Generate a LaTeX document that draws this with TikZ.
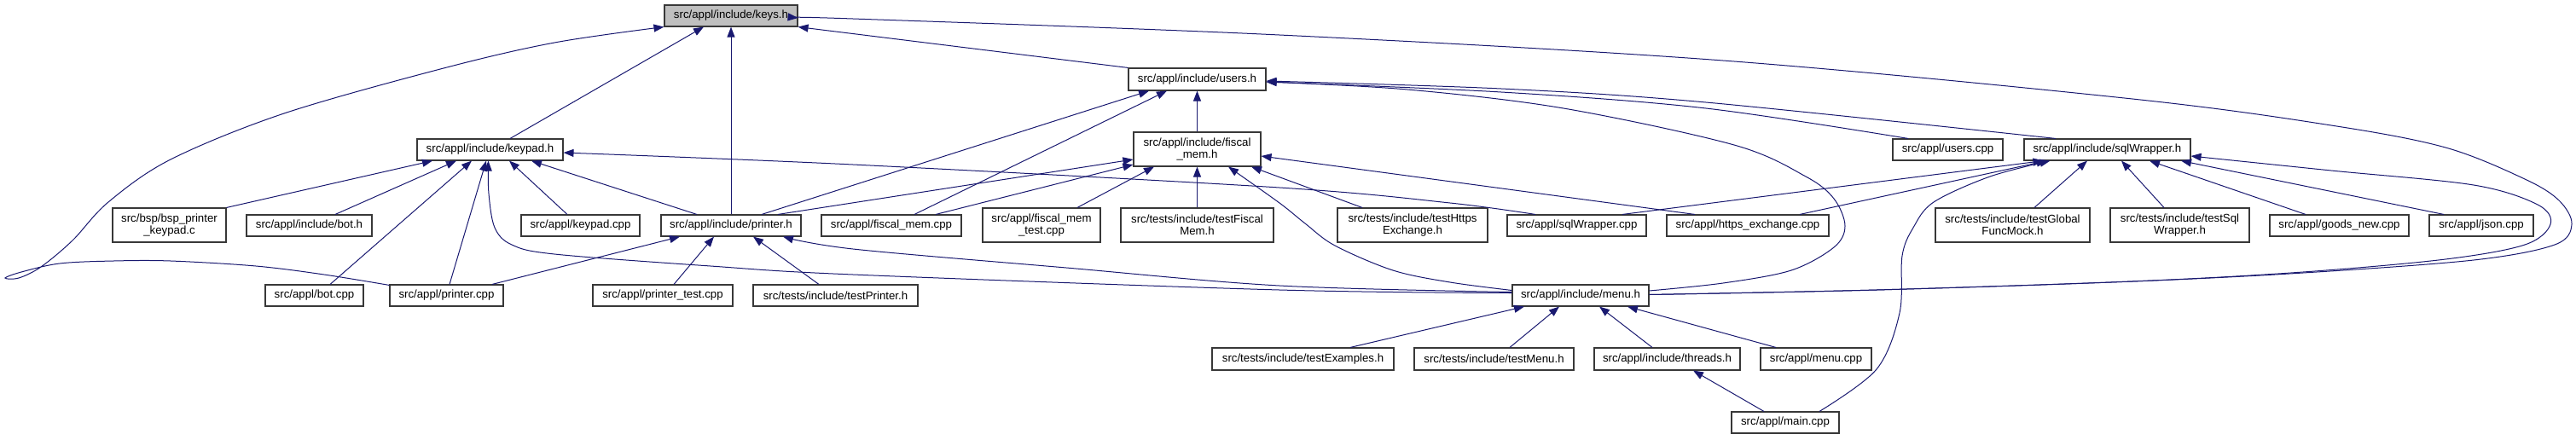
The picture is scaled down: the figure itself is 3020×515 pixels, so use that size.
\documentclass[tikz,border=0pt]{standalone}
\usepackage{fontspec}
\setmainfont{Liberation Sans}
\usetikzlibrary{arrows.meta}
\definecolor{mblue}{RGB}{25,25,112}
\definecolor{keygray}{RGB}{191,191,191}
\tikzset{
  box/.style={draw=black!78, line width=1.1pt, fill=white, inner sep=0pt, align=center,
    font=\fontsize{13.25}{14}\selectfont, anchor=center},
  one/.style={box, minimum height=25pt},
  two/.style={box, minimum height=40pt},
  edge/.style={draw=mblue, line width=1pt, -{Triangle[length=12pt,width=9pt]}},
  curv/.style={edge, smooth, tension=0.55},
}
\begin{document}
\begin{tikzpicture}[x=1pt,y=-1pt]
\useasboundingbox (0,0) rectangle (3020,515);
% nodes
\node[one, minimum width=156pt, fill=keygray] (keys) at (857,18.5) {src/appl/include/keys.h};
\node[box, minimum width=161pt, minimum height=26pt] (users) at (1403.5,93) {src/appl/include/users.h};
\node[one, minimum width=171pt] (keypad) at (574.5,175.5) {src/appl/include/keypad.h};
\node[two, minimum width=149pt] (fiscalh) at (1403.5,175) {src/appl/include/fiscal\\\_mem.h};
\node[one, minimum width=129pt] (userscpp) at (2283.5,175.5) {src/appl/users.cpp};
\node[one, minimum width=195pt] (sqlh) at (2470.5,175.5) {src/appl/include/sqlWrapper.h};
\node[two, minimum width=133pt] (bsp) at (198.5,264) {src/bsp/bsp\_printer\\\_keypad.c};
\node[one, minimum width=147pt] (both) at (362.5,264.5) {src/appl/include/bot.h};
\node[one, minimum width=139pt] (keypadcpp) at (680.5,264.5) {src/appl/keypad.cpp};
\node[one, minimum width=164pt] (printerh) at (857,264.5) {src/appl/include/printer.h};
\node[one, minimum width=164pt] (fiscalcpp) at (1045,264.5) {src/appl/fiscal\_mem.cpp};
\node[two, minimum width=138pt] (fiscaltest) at (1221,264) {src/appl/fiscal\_mem\\\_test.cpp};
\node[two, minimum width=179pt] (testFiscal) at (1403.5,264) {src/tests/include/testFiscal\\Mem.h};
\node[two, minimum width=176pt] (testHttps) at (1656,264) {src/tests/include/testHttps\\Exchange.h};
\node[one, minimum width=163pt] (sqlcpp) at (1848.5,264.5) {src/appl/sqlWrapper.cpp};
\node[one, minimum width=190pt] (httpscpp) at (2049,264.5) {src/appl/https\_exchange.cpp};
\node[two, minimum width=181pt] (testGlobal) at (2359.5,264) {src/tests/include/testGlobal\\FuncMock.h};
\node[two, minimum width=163pt] (testSql) at (2555.5,264) {src/tests/include/testSql\\Wrapper.h};
\node[one, minimum width=163pt] (goods) at (2742.5,264.5) {src/appl/goods\_new.cpp};
\node[one, minimum width=122pt] (json) at (2909,264.5) {src/appl/json.cpp};
\node[one, minimum width=115pt] (botcpp) at (368.5,346.5) {src/appl/bot.cpp};
\node[one, minimum width=133pt] (printercpp) at (523.5,346.5) {src/appl/printer.cpp};
\node[one, minimum width=164pt] (printertest) at (777,346.5) {src/appl/printer\_test.cpp};
\node[one, minimum width=193pt] (testPrinter) at (979.5,346.5) {src/tests/include/testPrinter.h};
\node[one, minimum width=160pt] (menuh) at (1853,346.5) {src/appl/include/menu.h};
\node[box, minimum width=213pt, minimum height=26pt] (testExamples) at (1527.5,421) {src/tests/include/testExamples.h};
\node[box, minimum width=187pt, minimum height=26pt] (testMenu) at (1751.5,421) {src/tests/include/testMenu.h};
\node[box, minimum width=171pt, minimum height=26pt] (threads) at (1954.5,421) {src/appl/include/threads.h};
\node[box, minimum width=130pt, minimum height=26pt] (menucpp) at (2129,421) {src/appl/menu.cpp};
\node[one, minimum width=126pt] (maincpp) at (2093,495.5) {src/appl/main.cpp};
% edges into keys.h
\draw[edge] ([xshift=23.5pt]keypad.north) -- ([xshift=-32pt]keys.south);
\draw[edge] (printerh.north) -- (keys.south);
\draw[edge] (users.north west) -- (keys.south east);
\draw[curv] plot coordinates {([yshift=1pt]menuh.east) (2200,340) (2500,330) (2700,320) (2900,305) (2995,287) (3015,263) (3000,235) (2960,210) (2867,173) (2733,147) (2500,116) (2020,71) (1500,41) (1000,22) ([yshift=-2.5pt]keys.east)};
\draw[curv] plot coordinates {([yshift=-1pt]printercpp.north west) (380,322) (300,312) (200,306) (133,306) (70,309) (25,319) (6,326) (22,326) (48,313) (85,282) (127,237) (200,187) (333,133) (520,80) (650,50) (keys.south west)};
% edges into users.h
\draw[edge] (fiscalh.north) -- (users.south);
\draw[edge] ([xshift=36pt]printerh.north) -- ([xshift=-56.5pt]users.south);
\draw[edge] ([xshift=27pt]fiscalcpp.north) -- ([xshift=-35.5pt]users.south);
\draw[curv] plot coordinates {([xshift=-46.5pt]userscpp.north) (2000,127) (1760,108) ([yshift=-3pt]users.east)};
\draw[curv] plot coordinates {([xshift=-60.5pt]sqlh.north) (2000,120) (1760,104) ([yshift=-2pt]users.east)};
\draw[curv] plot coordinates {([yshift=5.5pt]menuh.east) (2020,332) (2100,317) (2150,290) (2163,265) (2150,233) (2117,207) (2033,170) (1833,127) (1650,105) ([yshift=-3pt]users.east)};
% edges into keypad.h
\draw[edge] (bsp.north east) -- ([xshift=-67.5pt]keypad.south);
\draw[edge] ([xshift=30.5pt]both.north) -- ([xshift=-39.5pt]keypad.south);
\draw[edge] ([xshift=18.5pt]botcpp.north) -- ([xshift=-21.5pt]keypad.south);
\draw[edge] ([xshift=3.5pt]printercpp.north) -- ([xshift=-4.5pt]keypad.south);
\draw[curv] plot coordinates {([yshift=3pt]menuh.west) (1500,340) (1000,322) (833,312) (650,298) (600,287) (580,267) (573,227) ([xshift=-2pt]keypad.south)};
\draw[edge] ([xshift=-15.5pt]keypadcpp.north) -- ([xshift=22.5pt]keypad.south);
\draw[edge] ([xshift=-40pt]printerh.north) -- ([xshift=48.5pt]keypad.south);
\draw[curv] plot coordinates {([xshift=-48.5pt]sqlcpp.north) (1700,238) (1500,220) (1000,193) ([yshift=-3.5pt]keypad.east)};
% edges into fiscal_mem.h
\draw[edge] ([xshift=55pt]printerh.north) -- ([yshift=-12pt]fiscalh.west);
\draw[edge] ([xshift=52pt]fiscalcpp.north) -- ([yshift=-18pt]fiscalh.west);
\draw[edge] ([xshift=42pt]fiscaltest.north) -- ([xshift=-50.5pt]fiscalh.south);
\draw[edge] (testFiscal.north) -- (fiscalh.south);
\draw[edge] ([xshift=-59pt]testHttps.north) -- ([xshift=63.5pt]fiscalh.south);
\draw[edge] ([xshift=-62pt]httpscpp.north) -- ([yshift=-8pt]fiscalh.east);
\draw[curv] plot coordinates {([yshift=6pt]menuh.west) (1700,331) (1633,317) (1565,288) (1530,262) (1500,238) ([xshift=36.5pt]fiscalh.south)};
% edges into printer.h
\draw[edge] ([xshift=53.5pt]printercpp.north) -- ([xshift=-60pt]printerh.south);
\draw[edge] ([xshift=13pt]printertest.north) -- ([xshift=-20pt]printerh.south);
\draw[edge] ([xshift=-19.5pt]testPrinter.north) -- ([xshift=26pt]printerh.south);
\draw[curv] plot coordinates {([yshift=4pt]menuh.west) (1500,335) (1250,314) (1000,292) ([xshift=61pt]printerh.south)};
% edges into menu.h
\draw[edge] ([xshift=55.5pt]testExamples.north) -- ([xshift=-66pt]menuh.south);
\draw[edge] ([xshift=18.5pt]testMenu.north) -- ([xshift=-25pt]menuh.south);
\draw[edge] ([xshift=-17.5pt]threads.north) -- ([xshift=22pt]menuh.south);
\draw[edge] ([xshift=-47pt]menucpp.north) -- ([xshift=55pt]menuh.south);
% edge into threads.h
\draw[edge] ([xshift=-25pt]maincpp.north) -- ([xshift=30.5pt]threads.south);
% edges into sqlWrapper.h
\draw[edge] ([xshift=53.5pt]sqlcpp.north) -- ([xshift=-75pt]sqlh.south);
\draw[edge] ([xshift=61pt]httpscpp.north) -- ([xshift=-71pt]sqlh.south);
\draw[curv] plot coordinates {([xshift=40pt]maincpp.north) (2200,433) (2227,367) (2230,300) (2243,267) (2267,237) (2333,207) ([xshift=-67pt]sqlh.south)};
\draw[edge] ([xshift=25.5pt]testGlobal.north) -- ([xshift=-23.5pt]sqlh.south);
\draw[edge] ([xshift=-18.5pt]testSql.north) -- ([xshift=16.5pt]sqlh.south);
\draw[edge] ([xshift=-39.5pt]goods.north) -- ([xshift=49.5pt]sqlh.south);
\draw[edge] ([xshift=-44pt]json.north) -- ([xshift=86.5pt]sqlh.south);
\draw[curv] plot coordinates {([yshift=1pt]menuh.east) (2200,340) (2500,330) (2700,319) (2867,304) (2960,287) (2990,263) (2975,240) (2900,217) (2733,200) ([yshift=-7.5pt]sqlh.east)};
\end{tikzpicture}
\end{document}
